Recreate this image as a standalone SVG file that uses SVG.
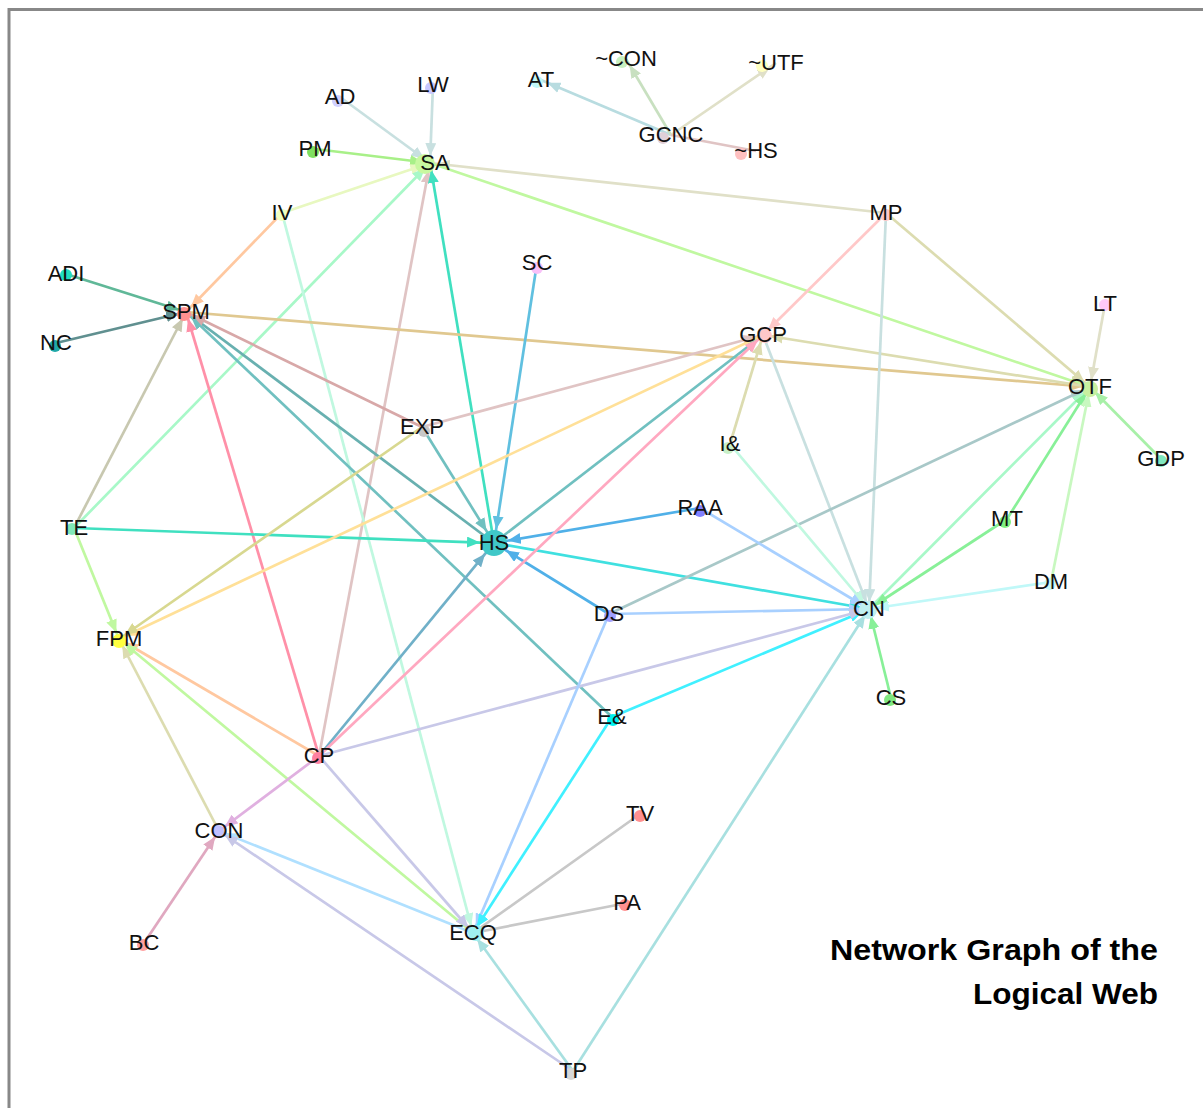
<svg xmlns="http://www.w3.org/2000/svg" width="1203" height="1108" viewBox="0 0 1203 1108">
<style>
.frame{stroke:#888;stroke-width:3;fill:none}
#edges line{stroke-width:2.7;fill:none}
.lbl{font-family:"Liberation Sans",Arial,sans-serif;font-size:22px;fill:#111;text-anchor:middle}
.title{font-family:"Liberation Sans",Arial,sans-serif;font-size:30px;font-weight:bold;fill:#000;text-anchor:end}
.c1{stroke:#c8e0e0;marker-end:url(#m1)}.c2{stroke:#a8f088;marker-end:url(#m2)}.c3{stroke:#e8f8c0;marker-end:url(#m3)}
.c4{stroke:#e0e0c8;marker-end:url(#m4)}.c5{stroke:#a8f8c8;marker-end:url(#m5)}.c6{stroke:#e0c4c4;marker-end:url(#m6)}
.c7{stroke:#40e0c0;marker-end:url(#m7)}.c8{stroke:#c0f8a0;marker-end:url(#m8)}.c9{stroke:#b8dce0;marker-end:url(#m9)}
.c10{stroke:#c8e0c0;marker-end:url(#m10)}.c11{stroke:#ffc8a0;marker-end:url(#m11)}.c12{stroke:#c0f8e0;marker-end:url(#m12)}
.c13{stroke:#60b898;marker-end:url(#m13)}.c14{stroke:#609090;marker-end:url(#m14)}.c15{stroke:#c8c8b0;marker-end:url(#m15)}
.c16{stroke:#ff90a8;marker-end:url(#m16)}.c17{stroke:#68b0b0;marker-end:url(#m17)}.c18{stroke:#70c0c0;marker-end:url(#m18)}
.c19{stroke:#d8a8a8;marker-end:url(#m19)}.c20{stroke:#e0c890;marker-end:url(#m20)}.c21{stroke:#60c0e0;marker-end:url(#m21)}
.c22{stroke:#50b0e8;marker-end:url(#m22)}.c23{stroke:#70b0c8;marker-end:url(#m23)}.c24{stroke:#40e0e0;marker-end:url(#m24)}
.c25{stroke:#ffa8c0;marker-end:url(#m25)}.c26{stroke:#dcdcb0;marker-end:url(#m26)}.c27{stroke:#ffc8c8;marker-end:url(#m27)}
.c28{stroke:#ffe098;marker-end:url(#m28)}.c29{stroke:#d8d890;marker-end:url(#m29)}.c30{stroke:#a8c8c8;marker-end:url(#m30)}
.c31{stroke:#a8f0a8;marker-end:url(#m31)}.c32{stroke:#88f098;marker-end:url(#m32)}.c33{stroke:#c8f8c0;marker-end:url(#m33)}
.c34{stroke:#c0f8f8;marker-end:url(#m34)}.c35{stroke:#a8d0ff;marker-end:url(#m35)}.c36{stroke:#40f0ff;marker-end:url(#m36)}
.c37{stroke:#c8c8e8;marker-end:url(#m37)}.c38{stroke:#a8e0e0;marker-end:url(#m38)}.c39{stroke:#e0b0e0;marker-end:url(#m39)}
.c40{stroke:#b0e0ff;marker-end:url(#m40)}.c41{stroke:#e0a8c0;marker-end:url(#m41)}.c42{stroke:#c8c8c8}
.nm{marker-end:none}
</style>
<defs>
<path id="ah" d="M0,0L13,5.5L0,11z"/>
<marker id="m1" markerWidth="13" markerHeight="11" refX="20" refY="5.5" orient="auto" markerUnits="userSpaceOnUse"><use href="#ah" fill="#c8e0e0"/></marker>
<marker id="m2" markerWidth="13" markerHeight="11" refX="20" refY="5.5" orient="auto" markerUnits="userSpaceOnUse"><use href="#ah" fill="#a8f088"/></marker>
<marker id="m3" markerWidth="13" markerHeight="11" refX="20" refY="5.5" orient="auto" markerUnits="userSpaceOnUse"><use href="#ah" fill="#e8f8c0"/></marker>
<marker id="m4" markerWidth="13" markerHeight="11" refX="20" refY="5.5" orient="auto" markerUnits="userSpaceOnUse"><use href="#ah" fill="#e0e0c8"/></marker>
<marker id="m5" markerWidth="13" markerHeight="11" refX="20" refY="5.5" orient="auto" markerUnits="userSpaceOnUse"><use href="#ah" fill="#a8f8c8"/></marker>
<marker id="m6" markerWidth="13" markerHeight="11" refX="20" refY="5.5" orient="auto" markerUnits="userSpaceOnUse"><use href="#ah" fill="#e0c4c4"/></marker>
<marker id="m7" markerWidth="13" markerHeight="11" refX="20" refY="5.5" orient="auto" markerUnits="userSpaceOnUse"><use href="#ah" fill="#40e0c0"/></marker>
<marker id="m8" markerWidth="13" markerHeight="11" refX="20" refY="5.5" orient="auto" markerUnits="userSpaceOnUse"><use href="#ah" fill="#c0f8a0"/></marker>
<marker id="m9" markerWidth="13" markerHeight="11" refX="20" refY="5.5" orient="auto" markerUnits="userSpaceOnUse"><use href="#ah" fill="#b8dce0"/></marker>
<marker id="m10" markerWidth="13" markerHeight="11" refX="20" refY="5.5" orient="auto" markerUnits="userSpaceOnUse"><use href="#ah" fill="#c8e0c0"/></marker>
<marker id="m11" markerWidth="13" markerHeight="11" refX="20" refY="5.5" orient="auto" markerUnits="userSpaceOnUse"><use href="#ah" fill="#ffc8a0"/></marker>
<marker id="m12" markerWidth="13" markerHeight="11" refX="20" refY="5.5" orient="auto" markerUnits="userSpaceOnUse"><use href="#ah" fill="#c0f8e0"/></marker>
<marker id="m13" markerWidth="13" markerHeight="11" refX="20" refY="5.5" orient="auto" markerUnits="userSpaceOnUse"><use href="#ah" fill="#60b898"/></marker>
<marker id="m14" markerWidth="13" markerHeight="11" refX="20" refY="5.5" orient="auto" markerUnits="userSpaceOnUse"><use href="#ah" fill="#609090"/></marker>
<marker id="m15" markerWidth="13" markerHeight="11" refX="20" refY="5.5" orient="auto" markerUnits="userSpaceOnUse"><use href="#ah" fill="#c8c8b0"/></marker>
<marker id="m16" markerWidth="13" markerHeight="11" refX="20" refY="5.5" orient="auto" markerUnits="userSpaceOnUse"><use href="#ah" fill="#ff90a8"/></marker>
<marker id="m17" markerWidth="13" markerHeight="11" refX="20" refY="5.5" orient="auto" markerUnits="userSpaceOnUse"><use href="#ah" fill="#68b0b0"/></marker>
<marker id="m18" markerWidth="13" markerHeight="11" refX="20" refY="5.5" orient="auto" markerUnits="userSpaceOnUse"><use href="#ah" fill="#70c0c0"/></marker>
<marker id="m19" markerWidth="13" markerHeight="11" refX="20" refY="5.5" orient="auto" markerUnits="userSpaceOnUse"><use href="#ah" fill="#d8a8a8"/></marker>
<marker id="m20" markerWidth="13" markerHeight="11" refX="20" refY="5.5" orient="auto" markerUnits="userSpaceOnUse"><use href="#ah" fill="#e0c890"/></marker>
<marker id="m21" markerWidth="13" markerHeight="11" refX="20" refY="5.5" orient="auto" markerUnits="userSpaceOnUse"><use href="#ah" fill="#60c0e0"/></marker>
<marker id="m22" markerWidth="13" markerHeight="11" refX="20" refY="5.5" orient="auto" markerUnits="userSpaceOnUse"><use href="#ah" fill="#50b0e8"/></marker>
<marker id="m23" markerWidth="13" markerHeight="11" refX="20" refY="5.5" orient="auto" markerUnits="userSpaceOnUse"><use href="#ah" fill="#70b0c8"/></marker>
<marker id="m24" markerWidth="13" markerHeight="11" refX="20" refY="5.5" orient="auto" markerUnits="userSpaceOnUse"><use href="#ah" fill="#40e0e0"/></marker>
<marker id="m25" markerWidth="13" markerHeight="11" refX="20" refY="5.5" orient="auto" markerUnits="userSpaceOnUse"><use href="#ah" fill="#ffa8c0"/></marker>
<marker id="m26" markerWidth="13" markerHeight="11" refX="20" refY="5.5" orient="auto" markerUnits="userSpaceOnUse"><use href="#ah" fill="#dcdcb0"/></marker>
<marker id="m27" markerWidth="13" markerHeight="11" refX="20" refY="5.5" orient="auto" markerUnits="userSpaceOnUse"><use href="#ah" fill="#ffc8c8"/></marker>
<marker id="m28" markerWidth="13" markerHeight="11" refX="20" refY="5.5" orient="auto" markerUnits="userSpaceOnUse"><use href="#ah" fill="#ffe098"/></marker>
<marker id="m29" markerWidth="13" markerHeight="11" refX="20" refY="5.5" orient="auto" markerUnits="userSpaceOnUse"><use href="#ah" fill="#d8d890"/></marker>
<marker id="m30" markerWidth="13" markerHeight="11" refX="20" refY="5.5" orient="auto" markerUnits="userSpaceOnUse"><use href="#ah" fill="#a8c8c8"/></marker>
<marker id="m31" markerWidth="13" markerHeight="11" refX="20" refY="5.5" orient="auto" markerUnits="userSpaceOnUse"><use href="#ah" fill="#a8f0a8"/></marker>
<marker id="m32" markerWidth="13" markerHeight="11" refX="20" refY="5.5" orient="auto" markerUnits="userSpaceOnUse"><use href="#ah" fill="#88f098"/></marker>
<marker id="m33" markerWidth="13" markerHeight="11" refX="20" refY="5.5" orient="auto" markerUnits="userSpaceOnUse"><use href="#ah" fill="#c8f8c0"/></marker>
<marker id="m34" markerWidth="13" markerHeight="11" refX="20" refY="5.5" orient="auto" markerUnits="userSpaceOnUse"><use href="#ah" fill="#c0f8f8"/></marker>
<marker id="m35" markerWidth="13" markerHeight="11" refX="20" refY="5.5" orient="auto" markerUnits="userSpaceOnUse"><use href="#ah" fill="#a8d0ff"/></marker>
<marker id="m36" markerWidth="13" markerHeight="11" refX="20" refY="5.5" orient="auto" markerUnits="userSpaceOnUse"><use href="#ah" fill="#40f0ff"/></marker>
<marker id="m37" markerWidth="13" markerHeight="11" refX="20" refY="5.5" orient="auto" markerUnits="userSpaceOnUse"><use href="#ah" fill="#c8c8e8"/></marker>
<marker id="m38" markerWidth="13" markerHeight="11" refX="20" refY="5.5" orient="auto" markerUnits="userSpaceOnUse"><use href="#ah" fill="#a8e0e0"/></marker>
<marker id="m39" markerWidth="13" markerHeight="11" refX="20" refY="5.5" orient="auto" markerUnits="userSpaceOnUse"><use href="#ah" fill="#e0b0e0"/></marker>
<marker id="m40" markerWidth="13" markerHeight="11" refX="20" refY="5.5" orient="auto" markerUnits="userSpaceOnUse"><use href="#ah" fill="#b0e0ff"/></marker>
<marker id="m41" markerWidth="13" markerHeight="11" refX="20" refY="5.5" orient="auto" markerUnits="userSpaceOnUse"><use href="#ah" fill="#e0a8c0"/></marker>
</defs>
<rect width="1203" height="1108" fill="#fff"/>
<path class="frame" d="M9,1108V9.5H1203"/>
<g id="edges">
<line class="c1" x1="340" y1="97" x2="430" y2="163"/>
<line class="c1" x1="433" y1="85" x2="430" y2="163"/>
<line class="c2" x1="315" y1="149" x2="430" y2="163"/>
<line class="c3" x1="282" y1="213" x2="430" y2="163"/>
<line class="c4" x1="886" y1="213" x2="430" y2="163"/>
<line class="c5" x1="74" y1="528" x2="430" y2="163"/>
<line class="c6" x1="319" y1="756" x2="430" y2="163"/>
<line class="c7" x1="494" y1="543" x2="430" y2="163"/>
<line class="c8" x1="430" y1="163" x2="1090" y2="387"/>
<line class="c9" x1="671" y1="135" x2="541" y2="80"/>
<line class="c10" x1="671" y1="135" x2="626" y2="59"/>
<line class="c4" x1="671" y1="135" x2="776" y2="63"/>
<line class="c6 nm" x1="671" y1="135" x2="756" y2="151"/>
<line class="c11" x1="282" y1="213" x2="186" y2="312"/>
<line class="c12" x1="282" y1="213" x2="473" y2="933"/>
<line class="c13" x1="66" y1="274" x2="186" y2="312"/>
<line class="c14" x1="56" y1="343" x2="186" y2="312"/>
<line class="c15" x1="74" y1="528" x2="186" y2="312"/>
<line class="c16" x1="319" y1="756" x2="186" y2="312"/>
<line class="c17" x1="494" y1="543" x2="186" y2="312"/>
<line class="c18" x1="612" y1="717" x2="186" y2="312"/>
<line class="c19" x1="422" y1="427" x2="186" y2="312"/>
<line class="c20" x1="186" y1="312" x2="1090" y2="387"/>
<line class="c21" x1="537" y1="263" x2="495.1" y2="536.1"/>
<line class="c7" x1="74" y1="528" x2="487" y2="542.8"/>
<line class="c18" x1="422" y1="427" x2="490.3" y2="537.1"/>
<line class="c22" x1="700" y1="508" x2="500.9" y2="541.8"/>
<line class="c22" x1="609" y1="614" x2="500" y2="546.7"/>
<line class="c23" x1="319" y1="756" x2="489.6" y2="548.4"/>
<line class="c24" x1="494" y1="543" x2="869" y2="609"/>
<line class="c18" x1="494" y1="543" x2="763" y2="335"/>
<line class="c6" x1="422" y1="427" x2="763" y2="335"/>
<line class="c25" x1="319" y1="756" x2="763" y2="335"/>
<line class="c26" x1="730" y1="444" x2="763" y2="335"/>
<line class="c27" x1="886" y1="213" x2="763" y2="335"/>
<line class="c26" x1="1090" y1="387" x2="763" y2="335"/>
<line class="c28" x1="763" y1="335" x2="119" y2="639"/>
<line class="c29" x1="422" y1="427" x2="119" y2="639"/>
<line class="c8" x1="74" y1="528" x2="119" y2="639"/>
<line class="c11" x1="319" y1="756" x2="119" y2="639"/>
<line class="c26" x1="219" y1="831" x2="119" y2="639"/>
<line class="c8" x1="473" y1="933" x2="119" y2="639"/>
<line class="c1" x1="763" y1="335" x2="869" y2="609"/>
<line class="c1" x1="886" y1="213" x2="869" y2="609"/>
<line class="c26" x1="886" y1="213" x2="1090" y2="387"/>
<line class="c4" x1="1105" y1="304" x2="1090" y2="387"/>
<line class="c31" x1="1161" y1="459" x2="1090" y2="387"/>
<line class="c30" x1="609" y1="614" x2="1090" y2="387"/>
<line class="c5" x1="869" y1="609" x2="1090" y2="387"/>
<line class="c32" x1="1007" y1="519" x2="1090" y2="387"/>
<line class="c32" x1="1007" y1="519" x2="869" y2="609"/>
<line class="c33" x1="1051" y1="582" x2="1090" y2="387"/>
<line class="c34" x1="1051" y1="582" x2="869" y2="609"/>
<line class="c32" x1="891" y1="698" x2="869" y2="609"/>
<line class="c12" x1="730" y1="444" x2="869" y2="609"/>
<line class="c35" x1="700" y1="508" x2="869" y2="609"/>
<line class="c35" x1="609" y1="614" x2="869" y2="609"/>
<line class="c36" x1="612" y1="717" x2="869" y2="609"/>
<line class="c37" x1="319" y1="756" x2="869" y2="609"/>
<line class="c38" x1="573" y1="1071" x2="869" y2="609"/>
<line class="c35" x1="609" y1="614" x2="473" y2="933"/>
<line class="c36" x1="612" y1="717" x2="473" y2="933"/>
<line class="c37" x1="319" y1="756" x2="473" y2="933"/>
<line class="c39" x1="319" y1="756" x2="219" y2="831"/>
<line class="c40" x1="473" y1="933" x2="219" y2="831"/>
<line class="c37" x1="573" y1="1071" x2="219" y2="831"/>
<line class="c41" x1="144" y1="943" x2="219" y2="831"/>
<line class="c38" x1="573" y1="1071" x2="473" y2="933"/>
<line class="c42" x1="640" y1="814" x2="473" y2="933"/>
<line class="c42" x1="627" y1="903" x2="473" y2="933"/>
</g>
<g id="nodes">
<g id="n-AD"><circle cx="338" cy="101" r="6" fill="#d0d0ff"/><text class="lbl" x="340" y="104">AD</text></g>
<g id="n-LW"><circle cx="431" cy="88" r="6" fill="#c8c8ff"/><text class="lbl" x="433" y="92">LW</text></g>
<g id="n-PM"><circle cx="313" cy="152" r="6" fill="#80e060"/><text class="lbl" x="315" y="156">PM</text></g>
<g id="n-SA"><circle cx="425" cy="164" r="10" fill="#c8f8a0"/><text class="lbl" x="435" y="170">SA</text></g>
<g id="n-IV"><circle cx="282" cy="215" r="6" fill="#f0ffc0"/><text class="lbl" x="282" y="220">IV</text></g>
<g id="n-not-CON"><circle cx="622" cy="62" r="6" fill="#c8f0c0"/><text class="lbl" x="626" y="66">~CON</text></g>
<g id="n-not-UTF"><circle cx="762" cy="66" r="6" fill="#ffffc0"/><text class="lbl" x="776" y="70">~UTF</text></g>
<g id="n-AT"><circle cx="537" cy="82" r="6" fill="#c0f8f8"/><text class="lbl" x="541" y="87">AT</text></g>
<g id="n-GCNC"><circle cx="663" cy="138" r="6" fill="#e0d0d8"/><text class="lbl" x="671" y="142">GCNC</text></g>
<g id="n-not-HS"><circle cx="741" cy="154" r="6" fill="#ffc0c0"/><text class="lbl" x="756" y="158">~HS</text></g>
<g id="n-MP"><circle cx="886" cy="215" r="6" fill="#ffc8c8"/><text class="lbl" x="886" y="220">MP</text></g>
<g id="n-SC"><circle cx="537" cy="268" r="6" fill="#f8c0f8"/><text class="lbl" x="537" y="270">SC</text></g>
<g id="n-ADI"><circle cx="66" cy="275" r="6" fill="#20e0c0"/><text class="lbl" x="66" y="281">ADI</text></g>
<g id="n-SPM"><circle cx="184" cy="314" r="7" fill="#ff9090"/><text class="lbl" x="186" y="319">SPM</text></g>
<g id="n-NC"><circle cx="55" cy="346" r="6" fill="#20a8a8"/><text class="lbl" x="56" y="350">NC</text></g>
<g id="n-GCP"><circle cx="765" cy="336" r="7" fill="#ffc8c8"/><text class="lbl" x="763" y="342">GCP</text></g>
<g id="n-LT"><circle cx="1105" cy="305" r="6" fill="#ffc8f8"/><text class="lbl" x="1105" y="311">LT</text></g>
<g id="n-OTF"><circle cx="1090" cy="389" r="8" fill="#c8f0a0"/><text class="lbl" x="1090" y="394">OTF</text></g>
<g id="n-EXP"><circle cx="424" cy="431" r="6" fill="#c8c8c8"/><text class="lbl" x="422" y="434">EXP</text></g>
<g id="n-I-amp"><circle cx="728" cy="448" r="6" fill="#c8f0c8"/><text class="lbl" x="730" y="451">I&amp;</text></g>
<g id="n-GDP"><circle cx="1161" cy="461" r="6" fill="#80e8c0"/><text class="lbl" x="1161" y="466">GDP</text></g>
<g id="n-TE"><circle cx="72" cy="529" r="6" fill="#80e8b8"/><text class="lbl" x="74" y="535">TE</text></g>
<g id="n-RAA"><circle cx="700" cy="511" r="6" fill="#8080ff"/><text class="lbl" x="700" y="515">RAA</text></g>
<g id="n-MT"><circle cx="1005" cy="522" r="6" fill="#80f080"/><text class="lbl" x="1007" y="526">MT</text></g>
<g id="n-HS"><circle cx="494" cy="543" r="13" fill="#40c8c8"/><text class="lbl" x="494" y="550">HS</text></g>
<g id="n-DS"><circle cx="610" cy="616" r="6" fill="#a0a0ff"/><text class="lbl" x="609" y="621">DS</text></g>
<g id="n-DM"><circle cx="1050" cy="584" r="6" fill="#c8f8f8"/><text class="lbl" x="1051" y="589">DM</text></g>
<g id="n-CN"><circle cx="868" cy="610" r="9" fill="#c0f0f0"/><text class="lbl" x="869" y="616">CN</text></g>
<g id="n-FPM"><circle cx="119" cy="641" r="7" fill="#ffff40"/><text class="lbl" x="119" y="646">FPM</text></g>
<g id="n-E-amp"><circle cx="613" cy="720" r="6" fill="#00f0f0"/><text class="lbl" x="612" y="724">E&amp;</text></g>
<g id="n-CS"><circle cx="890" cy="700" r="6" fill="#80e880"/><text class="lbl" x="891" y="705">CS</text></g>
<g id="n-CP"><circle cx="318" cy="758" r="6" fill="#ff80a0"/><text class="lbl" x="319" y="763">CP</text></g>
<g id="n-TV"><circle cx="640" cy="816" r="6" fill="#ff9090"/><text class="lbl" x="640" y="821">TV</text></g>
<g id="n-CON"><circle cx="218" cy="831" r="6" fill="#c0c0ff"/><text class="lbl" x="219" y="838">CON</text></g>
<g id="n-PA"><circle cx="625" cy="905" r="6" fill="#ff9090"/><text class="lbl" x="627" y="910">PA</text></g>
<g id="n-BC"><circle cx="143" cy="945" r="6" fill="#ffa0a0"/><text class="lbl" x="144" y="950">BC</text></g>
<g id="n-ECQ"><circle cx="476" cy="933" r="8" fill="#a0f0f0"/><text class="lbl" x="473" y="940">ECQ</text></g>
<g id="n-TP"><circle cx="571" cy="1074" r="6" fill="#d8d8d8"/><text class="lbl" x="573" y="1078">TP</text></g>
</g>
<g id="title">
<text class="title" x="1158" y="960" textLength="328" lengthAdjust="spacingAndGlyphs">Network Graph of the</text>
<text class="title" x="1158" y="1004" textLength="185" lengthAdjust="spacingAndGlyphs">Logical Web</text>
</g>
</svg>
